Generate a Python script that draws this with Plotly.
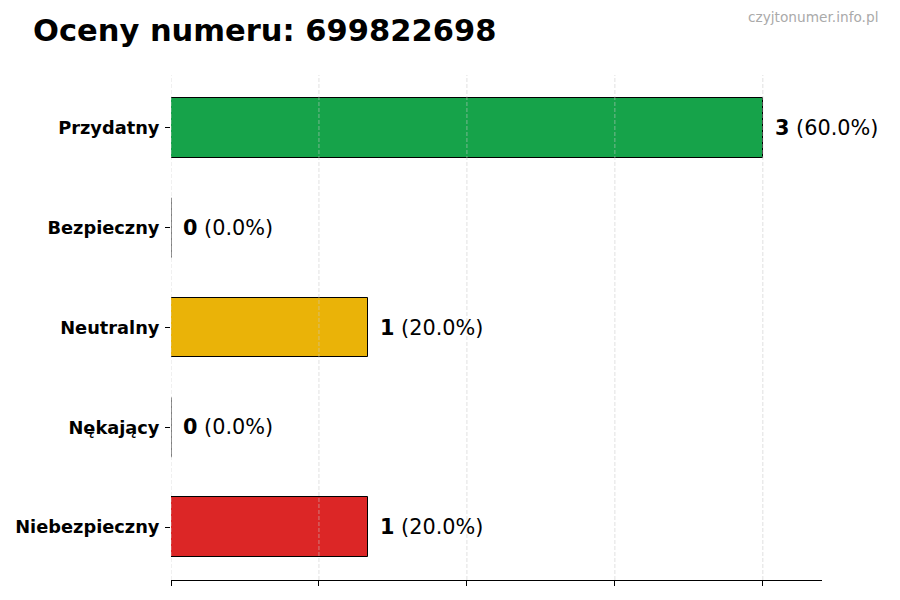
import plotly.graph_objects as go

categories = ["Przydatny", "Bezpieczny", "Neutralny", "Nękający", "Niebezpieczny"]
counts = [3, 0, 1, 0, 1]
percent_labels = ["60.0%", "0.0%", "20.0%", "0.0%", "20.0%"]
colors = ["#16a34a", "#16a34a", "#eab308", "#eab308", "#dc2626"]
tick_vals = [0, 0.75, 1.5, 2.25, 3]
phone = "699822698"

BAR_W = 0.6

fig = go.Figure()
fig.add_trace(
    go.Bar(
        x=counts,
        y=list(range(len(categories))),
        orientation="h",
        width=BAR_W,
        marker=dict(color=colors, line=dict(color="black", width=1)),
        hoverinfo="skip",
    )
)

# value labels right of each bar
for i, (val, pct) in enumerate(zip(counts, percent_labels)):
    fig.add_annotation(
        x=val,
        y=i,
        text=f"<b>{val}</b> ({pct})",
        showarrow=False,
        xanchor="left",
        yanchor="middle",
        xshift=10,
        font=dict(family="DejaVu Sans", size=20.8, color="black"),
    )
    # plotly skips zero-width bars, matplotlib still draws their edge
    if val == 0:
        fig.add_shape(
            type="line",
            xref="x",
            yref="y",
            x0=val,
            x1=val,
            y0=i - BAR_W / 2,
            y1=i + BAR_W / 2,
            layer="above",
            line=dict(color="black", width=1),
        )

# dashed grid drawn over the bars
for t in tick_vals:
    fig.add_shape(
        type="line",
        xref="x",
        yref="paper",
        x0=t,
        x1=t,
        y0=0,
        y1=1,
        layer="above",
        line=dict(color="rgba(200,200,200,0.55)", width=1, dash="4px,2px"),
    )

fig.add_annotation(
    text="czyjtonumer.info.pl",
    xref="paper",
    yref="paper",
    x=1.089,
    y=1.115,
    xanchor="right",
    yanchor="middle",
    showarrow=False,
    font=dict(family="DejaVu Sans", size=13.7, color="#aaaaaa"),
)

# page body adds an 8px offset, margins compensate for it
fig.update_layout(
    title=dict(
        text=f"<b>Oceny numeru: {phone}</b>",
        xref="container",
        yref="container",
        x=25 / 900,
        y=1 - 22 / 600,
        xanchor="left",
        yanchor="middle",
        font=dict(family="DejaVu Sans", size=30.5, color="black"),
    ),
    width=900,
    height=600,
    margin=dict(l=163, r=86, t=67, b=28),
    plot_bgcolor="white",
    paper_bgcolor="white",
    showlegend=False,
    bargap=0,
)
fig.update_xaxes(
    range=[0, 3.3],
    tickvals=tick_vals,
    showticklabels=False,
    ticks="outside",
    ticklen=5,
    tickcolor="black",
    showgrid=False,
    zeroline=False,
    showline=True,
    linecolor="black",
    linewidth=1,
    automargin=False,
)
fig.update_yaxes(
    range=[4.53, -0.53],
    tickvals=list(range(len(categories))),
    ticktext=[f"<b>{c}</b>" for c in categories],
    ticks="outside",
    ticklen=5,
    tickcolor="black",
    showgrid=False,
    showline=False,
    zeroline=False,
    tickfont=dict(family="DejaVu Sans", size=17.8, color="black"),
    ticklabelstandoff=2,
    automargin=False,
)

fig.write_html("out.html")
